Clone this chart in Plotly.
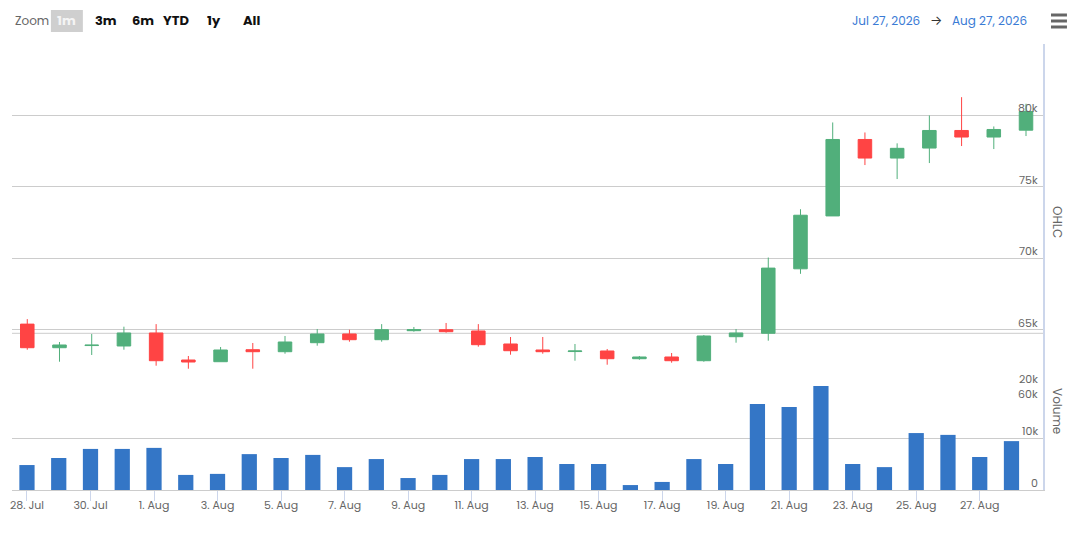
import plotly.graph_objects as go
import pandas as pd

# daily candles, 28 Jul - 28 Aug 2026
dates = pd.date_range('2026-07-28', '2026-08-28', freq='D')
opens = [65400, 63750, 63900, 63870, 64780, 62890, 62770, 63610, 63470, 64100, 64710, 64310,
         64940, 65010, 64920, 64010, 63590, 63480, 63520, 62980, 63100, 62840, 64520, 64760,
         69270, 72970, 78320, 77020, 77720, 78950, 78490, 78970]
highs = [65750, 64150, 64710, 65220, 65400, 63170, 63800, 64080, 64570, 65060, 65010, 65400,
         65200, 65480, 65400, 64500, 64500, 64010, 63660, 63170, 63380, 64640, 65060, 70060,
         73440, 79510, 78810, 78050, 80000, 81280, 79230, 80820]
lows = [63610, 62770, 63240, 63610, 62490, 62280, 62770, 62280, 63330, 63890, 64170, 64170,
        64870, 64800, 63820, 63260, 63330, 62840, 62560, 62910, 62700, 62770, 64100, 64240,
        68920, 72970, 76530, 75550, 76670, 77860, 77650, 78560]
closes = [63750, 63940, 63930, 64780, 62840, 62750, 63590, 63470, 64150, 64710, 64310, 65010,
          65010, 64870, 63960, 63540, 63470, 63520, 62980, 63100, 62840, 64570, 64780, 69320,
          73020, 78320, 77020, 77700, 78950, 78490, 79020, 80280]
volumes = [4800, 6150, 7900, 7900, 8100, 2900, 3100, 6900, 6150, 6750, 4400, 5950,
           2300, 2900, 5950, 5950, 6350, 5000, 5000, 950, 1550, 5950, 5000, 16550,
           15950, 20000, 5000, 4400, 10950, 10600, 6350, 9400]

tick_dates = pd.date_range('2026-07-28', '2026-08-27', freq='2D')
tick_labels = ['28. Jul', '30. Jul', '1. Aug', '3. Aug', '5. Aug', '7. Aug', '9. Aug', '11. Aug',
               '13. Aug', '15. Aug', '17. Aug', '19. Aug', '21. Aug', '23. Aug', '25. Aug', '27. Aug']
price_ticks = [60000, 65000, 70000, 75000, 80000, 85000]
price_labels = ['60k', '65k', '70k', '75k', '80k', '']
volume_ticks = [0, 10000, 20000]
volume_labels = ['0', '10k', '20k']
zoom_buttons = ['3m', '6m', 'YTD', '1y', 'All']

GREEN = '#51af7b'
RED = '#ff4444'
BLUE = '#3476c6'
GRID = '#cccccc'
TEXT = '#666666'
FONT = 'Poppins, Inter, sans-serif'

# plot area in window pixels (page body has an 8px margin)
OFF = 8
L, R, T, B = 10, 1043, 44, 490


def px(x):
    return (x - L) / (R - L)


def py(y):
    return (B - y) / (B - T)


day = pd.Timedelta(days=1)
base = dates[0]

fig = go.Figure()

fig.add_trace(go.Bar(
    x=dates, y=volumes, xaxis='x', yaxis='y2', marker=dict(color=BLUE, line=dict(width=0)),
    name='Volume'))

fig.add_trace(go.Candlestick(
    x=dates, open=opens, high=highs, low=lows, close=closes, xaxis='x2', yaxis='y',
    increasing=dict(line=dict(color=GREEN, width=1), fillcolor=GREEN),
    decreasing=dict(line=dict(color=RED, width=1), fillcolor=RED),
    whiskerwidth=0, name='OHLC'))

fig.update_layout(
    width=1080 - OFF, height=534 - OFF,
    margin=dict(l=L - OFF, r=1080 - R, t=T - OFF, b=534 - B),
    paper_bgcolor='white', plot_bgcolor='rgba(0,0,0,0)',
    font=dict(family=FONT, color=TEXT, size=11),
    showlegend=False,
    bargap=0.52, boxgap=0.4,
    xaxis=dict(
        type='date', anchor='y2',
        range=[base + day * (L - 25) / 31.82, base + day * (R - 25) / 31.82],
        tickvals=tick_dates, ticktext=tick_labels, ticklabeloverflow='allow',
        ticks='outside', ticklen=10, tickcolor='#ccd6eb', ticklabelstandoff=-5,
        showgrid=False, showline=True, linecolor=GRID, zeroline=False,
        rangeslider=dict(visible=False),
        tickfont=dict(size=11, color=TEXT),
    ),
    xaxis2=dict(
        type='date', overlaying='x', anchor='y', visible=False,
        range=[base + day * (L - 25.3) / 32.28, base + day * (R - 25.3) / 32.28],
        rangeslider=dict(visible=False),
    ),
    yaxis=dict(
        domain=[py(401.3), 1], range=[60000, 85000], side='right', anchor='x',
        tickvals=price_ticks, showticklabels=False,
        showgrid=True, gridcolor=GRID, gridwidth=1, zeroline=False,
        showline=True, linecolor='#ccd6eb', linewidth=2,
    ),
    yaxis2=dict(
        domain=[0, py(386)], range=[0, 20000], side='right', anchor='x',
        tickvals=volume_ticks, showticklabels=False,
        showgrid=True, gridcolor=GRID, gridwidth=1, zeroline=False,
        showline=True, linecolor='#ccd6eb', linewidth=2,
    ),
)

# y tick labels sit just above their grid lines, inside the plot
for val, lab in zip(price_ticks, price_labels):
    if lab:
        fig.add_annotation(text=lab, xref='paper', yref='y', x=px(1040), y=val, yshift=7,
                           xanchor='right', yanchor='middle', showarrow=False,
                           font=dict(size=11, color=TEXT))
for val, lab in zip(volume_ticks, volume_labels):
    fig.add_annotation(text=lab, xref='paper', yref='y2', x=px(1040), y=val, yshift=7,
                       xanchor='right', yanchor='middle', showarrow=False,
                       font=dict(size=11, color=TEXT))

# extra grid line above the volume pane
fig.add_shape(type='line', xref='paper', yref='paper', x0=0, x1=1, y0=py(333.3), y1=py(333.3),
              line=dict(color=GRID, width=1), layer='below')

# axis titles
fig.add_annotation(text='OHLC', xref='paper', yref='paper', x=px(1058), y=py(222),
                   xanchor='center', yanchor='middle',
                   textangle=90, showarrow=False, font=dict(size=12, color=TEXT))
fig.add_annotation(text='Volume', xref='paper', yref='paper', x=px(1058), y=py(411),
                   xanchor='center', yanchor='middle',
                   textangle=90, showarrow=False, font=dict(size=12, color=TEXT))

# range selector look-alike
fig.add_annotation(text='Zoom', xref='paper', yref='paper', x=px(11), y=py(21),
                   xanchor='left', yanchor='middle', showarrow=False,
                   font=dict(size=12, color=TEXT))
fig.add_shape(type='rect', xref='paper', yref='paper', x0=px(49), x1=px(81), y0=py(32), y1=py(10),
              fillcolor='#cfcfcf', line=dict(width=0), layer='below')
fig.add_annotation(text='<b>1m</b>', xref='paper', yref='paper', x=px(65), y=py(21),
                   xanchor='center', yanchor='middle', showarrow=False,
                   font=dict(size=13, color='#f4f4f4'))
for label, cx in zip(zoom_buttons, [104, 141, 174, 212, 250]):
    fig.add_annotation(text=f'<b>{label}</b>', xref='paper', yref='paper', x=px(cx), y=py(21),
                       xanchor='center', yanchor='middle', showarrow=False,
                       font=dict(size=13, color='#111111'))

# date range
fig.add_annotation(text='Jul 27, 2026', xref='paper', yref='paper', x=px(886), y=py(21),
                   xanchor='center', yanchor='middle', showarrow=False,
                   font=dict(size=12, color='#3a7bd5'))
fig.add_annotation(text='→', xref='paper', yref='paper', x=px(936), y=py(21),
                   xanchor='center', yanchor='middle', showarrow=False,
                   font=dict(size=13, color='#333333'))
fig.add_annotation(text='Aug 27, 2026', xref='paper', yref='paper', x=px(989), y=py(21),
                   xanchor='center', yanchor='middle', showarrow=False,
                   font=dict(size=12, color='#3a7bd5'))

# menu icon
for yy in [15, 21, 27]:
    fig.add_shape(type='line', xref='paper', yref='paper', x0=px(1051), x1=px(1067), y0=py(yy), y1=py(yy),
                  line=dict(color=TEXT, width=3))

fig.write_html("out.html")
